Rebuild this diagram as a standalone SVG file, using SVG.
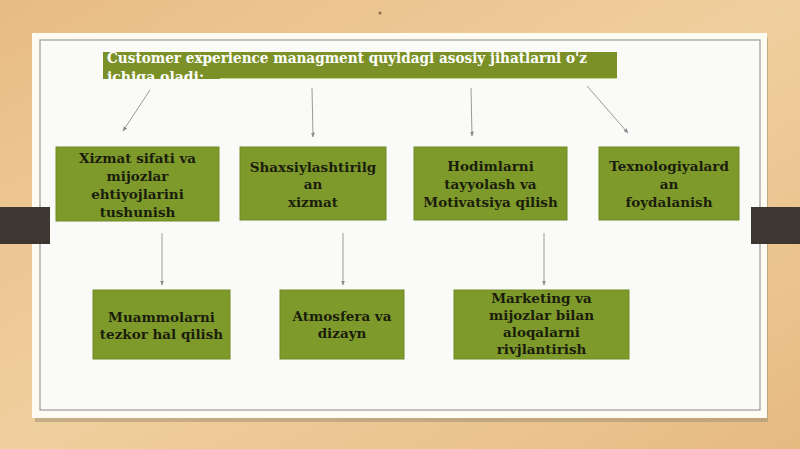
<svg xmlns="http://www.w3.org/2000/svg" width="800" height="449" viewBox="0 0 800 449">
<defs>
<linearGradient id="bg" x1="0" y1="0" x2="1" y2="1">
<stop offset="0" stop-color="#e8bc84"/>
<stop offset="0.5" stop-color="#f0cf9e"/>
<stop offset="1" stop-color="#e6bb82"/>
</linearGradient>
<marker id="ah" viewBox="0 0 10 10" refX="9" refY="5" markerWidth="5" markerHeight="5" orient="auto-start-reverse">
<path d="M0,1 L10,5 L0,9 z" fill="#8a8a8a"/>
</marker>
<clipPath id="hclip"><rect x="103" y="52" width="514" height="27"/></clipPath>
</defs>
<style>
.node rect{fill:#7e9a2b;stroke:#6f8a24;stroke-width:1}
.node text{font-family:"DejaVu Serif","Liberation Serif",serif;font-weight:bold;font-size:13.5px;fill:#1b1d0c;text-anchor:middle}
.conn line{stroke:#9a9a9a;stroke-width:1;marker-end:url(#ah)}
.tab{fill:#3d3631}
.ht{font-family:"DejaVu Serif","Liberation Serif",serif;font-weight:bold;font-size:14px;fill:#ffffff}
</style>
<rect x="0" y="0" width="800" height="449" fill="url(#bg)"/>
<circle cx="380" cy="13" r="1.5" fill="#8a6a4a"/>
<rect x="35" y="38" width="733" height="384" fill="#9a8c72" opacity="0.5"/>
<rect x="32" y="33" width="735" height="385" fill="#fdfbf2"/>
<rect x="40" y="40" width="720" height="370" fill="#fafaf8" stroke="#9c9c98" stroke-width="1.2"/>
<rect class="tab" x="0" y="207" width="50" height="37"/>
<rect class="tab" x="751" y="207" width="49" height="37"/>
<g id="header">
<rect x="103" y="52" width="514" height="27" fill="#7b9128"/>
<g clip-path="url(#hclip)">
<text class="ht" x="107" y="63" textLength="480" lengthAdjust="spacingAndGlyphs">Customer experience managment quyidagi asosiy jihatlarni o'z</text>
<text class="ht" x="107" y="82">ichiga oladi:</text>
</g>
<line x1="220" y1="78.5" x2="617" y2="78.5" stroke="#c8d48a" stroke-width="1"/>
</g>
<g id="connectors" class="conn">
<line x1="150" y1="90" x2="123" y2="131"/>
<line x1="312" y1="88" x2="313" y2="137"/>
<line x1="471" y1="88" x2="472" y2="136"/>
<line x1="587" y1="86" x2="628" y2="133"/>
<line x1="162" y1="233" x2="162" y2="285"/>
<line x1="343" y1="233" x2="343" y2="285"/>
<line x1="544" y1="233" x2="544" y2="285"/>
</g>
<g id="n1" class="node">
<rect x="56" y="147" width="163" height="74"/>
<text x="137.5" y="163">Xizmat sifati va</text>
<text x="137.5" y="181">mijozlar</text>
<text x="137.5" y="199">ehtiyojlarini</text>
<text x="137.5" y="217">tushunish</text>
</g>
<g id="n2" class="node">
<rect x="240" y="147" width="146" height="73"/>
<text x="313" y="172">Shaxsiylashtirilg</text>
<text x="313" y="189">an</text>
<text x="313" y="207">xizmat</text>
</g>
<g id="n3" class="node">
<rect x="414" y="147" width="153" height="73"/>
<text x="490.5" y="171">Hodimlarni</text>
<text x="490.5" y="189">tayyolash va</text>
<text x="490.5" y="207">Motivatsiya qilish</text>
</g>
<g id="n4" class="node">
<rect x="599" y="147" width="140" height="73"/>
<text x="669" y="171">Texnologiyalard</text>
<text x="669" y="189">an</text>
<text x="669" y="207">foydalanish</text>
</g>
<g id="n5" class="node">
<rect x="93" y="290" width="137" height="69"/>
<text x="161.5" y="322">Muammolarni</text>
<text x="161.5" y="339">tezkor hal qilish</text>
</g>
<g id="n6" class="node">
<rect x="280" y="290" width="124" height="69"/>
<text x="342" y="321">Atmosfera va</text>
<text x="342" y="338">dizayn</text>
</g>
<g id="n7" class="node">
<rect x="454" y="290" width="175" height="69"/>
<text x="541.5" y="303">Marketing va</text>
<text x="541.5" y="320">mijozlar bilan</text>
<text x="541.5" y="337">aloqalarni</text>
<text x="541.5" y="354">rivjlantirish</text>
</g>
</svg>
